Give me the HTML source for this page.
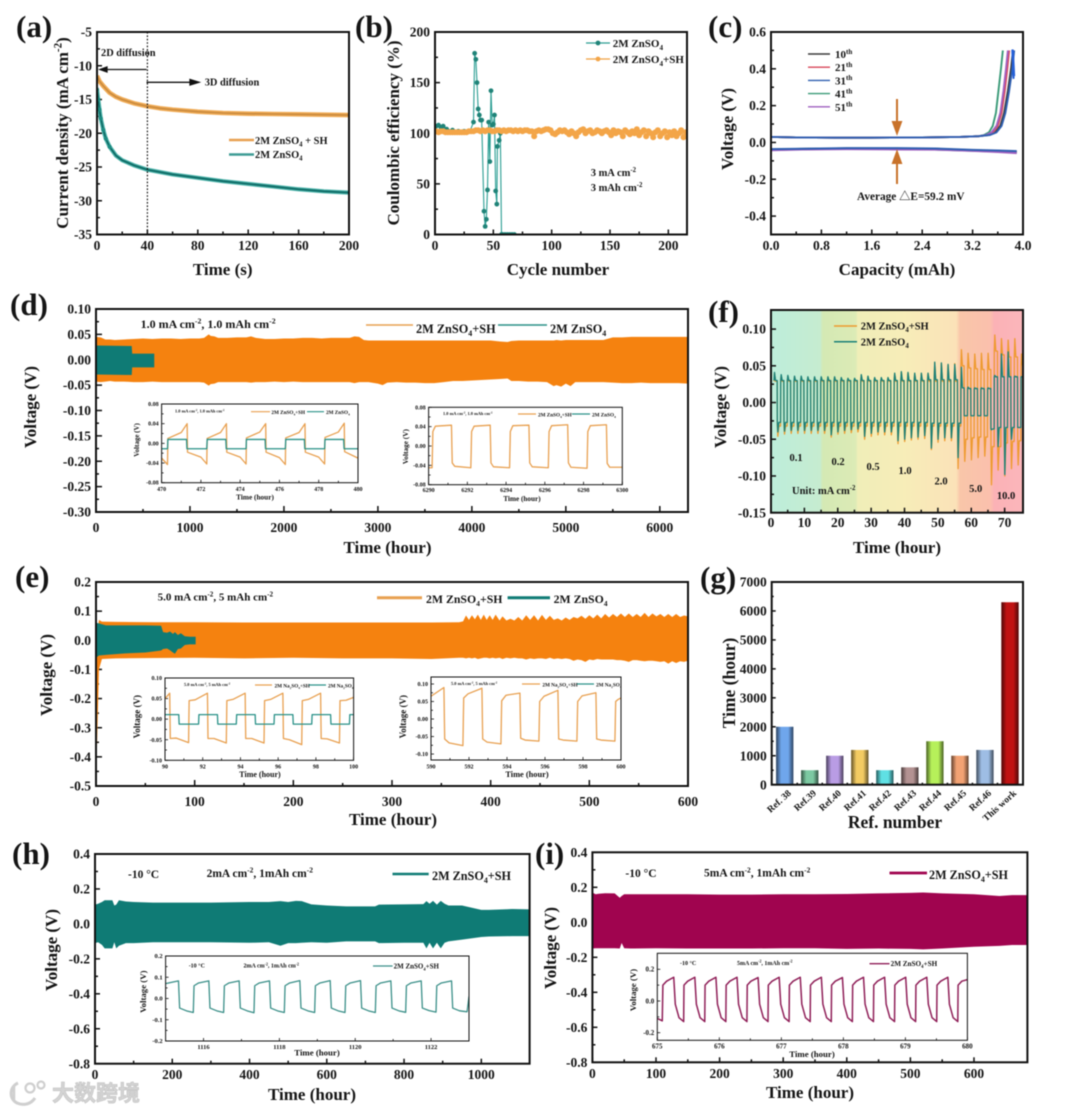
<!DOCTYPE html>
<html lang="en">
<head>
<meta charset="utf-8">
<title>Electrochemical performance figure</title>
<style>
html,body{margin:0;padding:0;background:#fff;width:1080px;height:1111px;overflow:hidden}
#figure{display:block;filter:blur(.4px)}
#figure text{font-family:"Liberation Serif","Noto Serif CJK SC",serif;font-weight:bold;fill:#151515}
</style>
</head>
<body>
<svg id="figure" xmlns="http://www.w3.org/2000/svg" width="1080" height="1111" viewBox="0 0 1080 1111"></svg>
<script>
// ---------- panel (a) ----------
const aXTicks=[0,40,80,120,160,200];
const aYTicks=[-5,-10,-15,-20,-25,-30,-35];
const aTimeSH=[0,2,5,10,15,20,30,40,50,60,80,100,120,140,160,180,200];
const aCurrentSH=[-11.5,-12.3,-13,-14,-14.6,-15,-15.6,-16,-16.3,-16.5,-16.8,-17,-17.1,-17.15,-17.2,-17.25,-17.3];
const aTimeZn=[0,1,2,3,5,7,10,15,20,30,40,60,80,100,120,140,160,180,200];
const aCurrentZn=[-13.5,-15,-16.5,-17.8,-19.5,-20.8,-22,-23.3,-24,-24.8,-25.4,-26.1,-26.6,-27.1,-27.5,-27.9,-28.3,-28.6,-28.8];
// ---------- panel (b) ----------
const bXTicks=[0,50,100,150,200];
const bYTicks=[0,50,100,150,200];
const bCycleZn=[1,3,5,7,10,15,20,25,30,33,34,35,36,37,38,39,40,42,43,44,45,46,47,48,49,50,51,52,53,53.5,55,56,57,58,60,62,64,66,68];
const bEfficiencyZn=[107,108,106,107,104,103,102,102,102,111,179,173,150,124,118,113,113,23,8,15,44,111,72,142,108,109,118,43,30,87,93,100,0,0,0,0,0,0,0];
const bCycleStartSH=1;
const bCycleStepSH=2;
const bEfficiencySH=[102,101,102,102,101,101,101,101,101,101,101,101,101,101,102,102,102,103,103,102,103,102,103,103,102,102,103,103,102,103,102,103,103,102,103,102,103,102,103,103,102,102,97,102,103,102,103,104,104,103,100,99,101,103,102,103,101,99,102,100,97,101,103,104,100,102,103,100,101,103,102,100,102,103,101,98,103,100,102,101,97,103,101,99,102,100,104,98,101,103,97,102,100,96,101,103,97,100,102,96,101,98,102,97,100,103,96,101];
// ---------- panel (c) ----------
const cXTicks=[0,0.8,1.6,2.4,3.2,4.0];
const cYTicks=[0.6,0.4,0.2,0,-0.2,-0.4];
const cCycleNames=["10","21","31","41","51"];
const cChargeVoltage=[.03,.027,.026,.026,.027,.03,.034,.04,.055,.09,.16,.28,.40,.50];
const cChargeCap10=[0,.4,1,1.6,2.4,3,3.3,3.45,3.56,3.64,3.7,3.76,3.81,3.84];
const cChargeCap21=[0,.4,1,1.6,2.4,3,3.3,3.42,3.52,3.6,3.66,3.71,3.75,3.78];
const cChargeCap31=[0,.4,1,1.6,2.4,3,3.3,3.47,3.58,3.66,3.72,3.78,3.83,3.86];
const cChargeCap41=[0,.4,1,1.6,2.4,3,3.3,3.38,3.46,3.52,3.57,3.61,3.65,3.68];
const cChargeCap51=[0,.4,1,1.6,2.4,3,3.3,3.41,3.5,3.58,3.64,3.69,3.73,3.76];
const cDischargeCap=[0,.5,1.2,2,2.6,3.2,3.6,3.9];
const cDischarge10=[-.038,-.035,-.032,-.033,-.034,-.042,-.046,-.05];
const cDischarge21=[-.04,-.037,-.034,-.035,-.036,-.044,-.049,-.053];
const cDischarge31=[-.036,-.034,-.031,-.031,-.033,-.04,-.044,-.047];
const cDischarge41=[-.04,-.036,-.034,-.036,-.038,-.045,-.05,-.055];
const cDischarge51=[-.042,-.038,-.036,-.038,-.039,-.046,-.052,-.058];
const cJitterCap=[3.83,3.85,3.83,3.85,3.84,3.86];
const cJitterVoltage=[.5,.35,.5,.35,.5,.36];
// ---------- panel (d) ----------
const dXTicks=[0,1000,2000,3000,4000,5000,6000];
const dYTicks=[.1,.05,0,-.05,-.1,-.15,-.2,-.25,-.3];
const dTimeSH=[0,50,100,150,200,300,400,500,600,700,800,900,1000,1100,1150,1200,1220,1260,1300,1400,1500,1600,1650,1700,1800,1900,2000,2100,2200,2300,2400,2500,2600,2700,2750,2800,2850,2900,3000,3050,3100,3200,3300,3400,3500,3600,3700,3800,3900,4000,4100,4200,4300,4380,4420,4500,4600,4700,4800,4870,4900,4950,5000,5050,5100,5200,5300,5400,5500,5600,5700,5800,5900,6000,6100,6200,6300];
const dUpperSH=[.045,.044,.04,.04,.039,.04,.041,.042,.041,.042,.042,.041,.042,.042,.043,.05,.047,.046,.043,.043,.044,.044,.046,.043,.041,.041,.042,.042,.043,.043,.042,.043,.043,.043,.046,.045,.039,.038,.038,.038,.038,.038,.038,.038,.038,.038,.038,.038,.038,.038,.038,.038,.036,.035,.037,.038,.038,.038,.038,.038,.039,.038,.039,.039,.039,.039,.039,.039,.044,.044,.045,.045,.045,.045,.045,.045,.045];
const dLowerSH=[-.043,-.044,-.043,-.042,-.043,-.043,-.044,-.044,-.043,-.044,-.044,-.044,-.044,-.044,-.045,-.051,-.048,-.047,-.044,-.044,-.044,-.044,-.045,-.044,-.044,-.043,-.044,-.043,-.044,-.044,-.044,-.044,-.044,-.044,-.046,-.044,-.044,-.044,-.047,-.05,-.045,-.044,-.045,-.045,-.046,-.046,-.044,-.042,-.042,-.041,-.04,-.039,-.038,-.037,-.042,-.042,-.043,-.043,-.044,-.052,-.05,-.053,-.047,-.052,-.044,-.044,-.044,-.044,-.045,-.046,-.046,-.045,-.046,-.046,-.046,-.046,-.047];
const dTimeZn=[0,380,385,620];
const dUpperZn=[.028,.027,.012,.012];
const dLowerZn=[-.029,-.03,-.015,-.015];
const d1XTicks=[470,472,474,476,478,480];
const d1YTicks=[.08,.04,0,-.04,-.08];
const d1Time=[470,470.3,470.32,471,471.3,471.32,472,472.3,472.32,473,473.3,473.32,474,474.3,474.32,475,475.3,475.32,476,476.3,476.32,477,477.3,477.32,478,478.3,478.32,479,479.3,479.32,480];
const d1SH=[-.03,-.043,.01,.022,.04,-.018,-.028,-.042,.01,.022,.04,-.018,-.028,-.042,.011,.023,.04,-.018,-.029,-.043,.011,.022,.04,-.018,-.028,-.042,.012,.023,.041,-.017,-.03];
const d1ZnTime=[470,470.3,470.32,471.27,471.29,472.3,472.32,473.27,473.29,474.3,474.32,475.27,475.29,476.3,476.32,477.27,477.29,478.3,478.32,479.27,479.29,480];
const d1Zn=[-.011,-.011,.008,.008,-.011,-.011,.008,.008,-.011,-.011,.008,.008,-.011,-.011,.008,.008,-.011,-.011,.008,.008,-.011,-.011];
const d2XTicks=[6290,6292,6294,6296,6298,6300];
const d2YTicks=[.08,.04,0,-.04,-.08];
const d2Time=[6290,6290.18,6290.22,6290.35,6291.18,6291.22,6291.35,6292.18,6292.22,6292.35,6293.18,6293.22,6293.35,6294.18,6294.22,6294.35,6295.18,6295.22,6295.35,6296.18,6296.22,6296.35,6297.18,6297.22,6297.35,6298.18,6298.22,6298.35,6299.18,6299.22,6299.35,6300];
const d2SH=[-.045,-.045,.03,.041,.043,-.035,-.042,-.045,.03,.041,.043,-.035,-.043,-.045,.03,.042,.043,-.035,-.043,-.045,.03,.042,.044,-.035,-.044,-.046,.03,.042,.044,-.036,-.044,-.044];
// ---------- panel (e) ----------
const eXTicks=[0,100,200,300,400,500,600];
const eYTicks=[.2,.1,0,-.1,-.2,-.3,-.4,-.5];
const eTimeSH=[0,3,6,20,60,100,150,200,250,300,340,368,372,375,378,381,384,387,390,393,396,399,402,405,409,412,416,420,424,428,432,436,440,444,448,452,456,460,464,468,472,476,480,484,488,492,496,500,504,508,512,516,520,524,528,532,536,540,544,548,552,556,560,564,568,572,576,580,584,588,592,596,600];
const eUpperSH=[0,.07,.064,.063,.062,.062,.061,.061,.061,.061,.061,.062,.065,.085,.07,.086,.072,.088,.07,.088,.07,.086,.07,.088,.068,.082,.068,.074,.068,.08,.068,.086,.07,.086,.068,.087,.07,.084,.07,.075,.068,.078,.07,.08,.075,.084,.074,.086,.075,.088,.075,.09,.078,.09,.08,.092,.08,.092,.08,.09,.08,.094,.08,.092,.082,.09,.08,.09,.08,.09,.08,.085,.082];
const eLowerSH=[-.5,-.1,-.064,-.062,-.061,-.06,-.062,-.06,-.062,-.062,-.064,-.06,-.06,-.062,-.06,-.062,-.06,-.064,-.062,-.06,-.06,-.062,-.06,-.062,-.06,-.064,-.06,-.062,-.06,-.062,-.062,-.066,-.062,-.064,-.062,-.062,-.064,-.06,-.064,-.062,-.064,-.062,-.064,-.07,-.066,-.068,-.074,-.066,-.068,-.064,-.066,-.066,-.066,-.066,-.068,-.068,-.07,-.074,-.068,-.068,-.07,-.072,-.07,-.07,-.072,-.074,-.072,-.08,-.072,-.078,-.072,-.074,-.07];
const eTimeZn=[0,3,10,30,50,66,68,72,75,78,80,83,86,90,95,101];
const eUpperZn=[.06,.058,.051,.051,.051,.05,.028,.026,.03,.022,.028,.018,.024,.014,.012,.012];
const eLowerZn=[-.06,-.052,-.05,-.045,-.042,-.035,-.03,-.028,-.034,-.042,-.046,-.03,-.028,-.016,-.014,-.014];
const e1XTicks=[90,92,94,96,98,100];
const e1YTicks=[.1,.05,0,-.05,-.1];
const e1Time=[90,90.25,90.28,90.6,91.25,91.28,91.6,92.25,92.28,92.6,93.25,93.28,93.6,94.25,94.28,94.6,95.25,95.28,95.6,96.25,96.28,96.6,97.25,97.28,97.6,98.25,98.28,98.6,99.25,99.28,99.6,100];
const e1SH=[.05,.063,-.047,-.046,-.057,.045,.047,.063,-.047,-.047,-.058,.045,.048,.063,-.047,-.047,-.058,.045,.048,.063,-.047,-.05,-.062,.045,.048,.063,-.047,-.048,-.058,.045,.046,.053];
const e1ZnTime=[90,90.73,90.75,91.78,91.8,92.78,92.8,93.78,93.8,94.78,94.8,95.78,95.8,96.78,96.8,97.78,97.8,98.78,98.8,99.78,99.8,100];
const e1Zn=[.011,.011,-.012,-.012,.011,.011,-.012,-.012,.011,.011,-.012,-.012,.011,.011,-.012,-.012,.011,.011,-.012,-.012,.011,.011];
const e2XTicks=[590,592,594,596,598,600];
const e2YTicks=[.1,.05,0,-.05,-.1];
const e2Time=[590,590.68,590.72,590.95,591.68,591.72,591.95,592.68,592.72,592.95,593.68,593.72,593.95,594.68,594.72,594.95,595.68,595.72,595.95,596.68,596.72,596.95,597.68,597.72,597.95,598.68,598.72,598.95,599.68,599.72,599.85,600];
const e2SH=[.065,.09,-.057,-.068,-.076,.06,.072,.088,-.057,-.066,-.071,.052,.068,.074,-.055,-.06,-.063,.05,.065,.082,-.057,-.06,-.063,.05,.066,.075,-.057,-.06,-.063,.05,.056,.06];
// ---------- panel (f) ----------
const fXTicks=[0,10,20,30,40,50,60,70];
const fYTicks=[.1,.05,0,-.05,-.1,-.15];
const fRateLabels=["0.1","0.2","0.5","1.0","2.0","5.0","10.0"];
const fCycleHours=[.9,2.9,4.9,6.9,8.9,10.9,12.9,14.9,16.9,18.9,20.9,22.9,24.9,26.9,28.9,30.9,32.9,34.9,36.9,38.9,40.9,42.9,44.9,46.9,48.9,50.9,52.9,54.9,56.9,58.9,60.9,62.9,64.9,66.9,68.9,70.9,72.9,74.9];
const fZnHighPeak=[.041,.038,.037,.036,.036,.035,.035,.035,.035,.035,.034,.033,.033,.038,.036,.034,.034,.034,.04,.042,.041,.04,.04,.04,.055,.054,.052,.052,.048,.021,.02,.02,.02,.037,.066,.069,.036,.035];
const fZnHighEnd=[.03,.03,.03,.03,.03,.03,.03,.03,.03,.03,.03,.03,.03,.03,.03,.03,.03,.03,.03,.03,.03,.03,.03,.031,.031,.031,.031,.031,.02,.019,.019,.019,.019,.035,.035,.035,.035,.035];
const fZnLowPeak=[-.04,-.039,-.038,-.038,-.038,-.038,-.038,-.038,-.044,-.04,-.038,-.037,-.036,-.046,-.042,-.04,-.04,-.04,-.052,-.05,-.048,-.047,-.045,-.062,-.05,-.048,-.048,-.075,-.018,-.018,-.018,-.018,-.037,-.06,-.098,-.05,-.034,-.034];
const fZnLowEnd=[-.027,-.027,-.027,-.027,-.027,-.027,-.027,-.027,-.027,-.027,-.027,-.027,-.027,-.027,-.027,-.027,-.027,-.027,-.027,-.027,-.027,-.027,-.027,-.028,-.028,-.028,-.028,-.028,-.018,-.018,-.018,-.018,-.036,-.034,-.034,-.034,-.034,-.034];
const fSHHighPeak=[.04,.037,.036,.035,.035,.034,.034,.034,.034,.034,.033,.032,.032,.037,.035,.033,.033,.033,.039,.041,.04,.039,.039,.039,.054,.053,.051,.053,.072,.067,.066,.067,.067,.092,.087,.085,.087,.066];
const fSHHighEnd=[.029,.029,.029,.029,.029,.029,.029,.029,.029,.029,.029,.029,.029,.029,.029,.029,.029,.029,.029,.029,.029,.029,.029,.029,.029,.029,.029,.029,.05,.047,.046,.045,.045,.07,.065,.062,.062,.05];
const fSHLowPeak=[-.046,-.043,-.042,-.042,-.042,-.042,-.042,-.042,-.047,-.043,-.042,-.041,-.04,-.05,-.046,-.044,-.044,-.044,-.056,-.053,-.051,-.05,-.049,-.064,-.054,-.052,-.052,-.09,-.08,-.078,-.075,-.073,-.112,-.092,-.1,-.09,-.085,-.085];
const fSHLowEnd=[-.032,-.032,-.032,-.032,-.032,-.032,-.032,-.032,-.032,-.032,-.032,-.032,-.032,-.032,-.032,-.032,-.032,-.032,-.032,-.032,-.032,-.032,-.032,-.032,-.032,-.032,-.032,-.032,-.05,-.048,-.047,-.047,-.06,-.06,-.055,-.053,-.052,-.05];
// ---------- panel (g) ----------
const gCategories=["Ref. 38","Ref.39","Ref.40","Ref.41","Ref.42","Ref.43","Ref.44","Ref.45","Ref.46","This work"];
const gHours=[2000,500,1000,1200,500,600,1500,1000,1200,6300];
const gYTicks=[0,1000,2000,3000,4000,5000,6000,7000];
const gBarColors=["#6fa6ec","#7cc9a2","#b99cE4","#f3cb62","#5fe0e4","#b39292","#b6f05a","#f2a273","#9ebde4","#c01212"];
// ---------- panel (h) ----------
const hXTicks=[0,200,400,600,800,1000];
const hYTicks=[.4,.2,0,-.2,-.4,-.6,-.8];
const hTime=[0,8,18,25,45,50,55,62,80,100,150,200,300,400,450,480,500,520,535,560,600,650,700,725,735,800,850,858,866,875,885,895,905,915,950,1000,1020,1080,1125];
const hUpper=[.11,.115,.125,.135,.135,.105,.11,.135,.128,.125,.122,.122,.122,.125,.125,.13,.125,.132,.13,.112,.105,.1,.1,.1,.11,.112,.113,.13,.115,.132,.11,.132,.115,.105,.105,.08,.08,.085,.083];
const hLower=[-.11,-.105,-.12,-.14,-.14,-.105,-.14,-.125,-.11,-.11,-.105,-.105,-.105,-.108,-.105,-.125,-.11,-.11,-.108,-.105,-.108,-.1,-.1,-.1,-.11,-.108,-.108,-.14,-.108,-.14,-.108,-.14,-.108,-.1,-.09,-.075,-.072,-.07,-.07];
const h1XTicks=[1116,1118,1120,1122];
const h1YTicks=[.2,.1,0,-.1,-.2];
const h1Time=[1115,1115.15,1115.34,1115.37,1115.55,1115.73,1115.75,1115.87,1116.14,1116.17,1116.35,1116.53,1116.55,1116.67,1116.94,1116.97,1117.15,1117.33,1117.35,1117.47,1117.74,1117.77,1117.95,1118.13,1118.15,1118.27,1118.54,1118.57,1118.75,1118.93,1118.95,1119.07,1119.34,1119.37,1119.55,1119.73,1119.75,1119.87,1120.14,1120.17,1120.35,1120.53,1120.55,1120.67,1120.94,1120.97,1121.15,1121.33,1121.35,1121.47,1121.74,1121.77,1121.95,1122.13,1122.15,1122.27,1122.54,1122.57,1122.75,1122.93,1122.95,1123];
const h1Voltage=[.07,.076,.083,-.045,-.058,-.066,.06,.073,.083,-.045,-.058,-.066,.06,.073,.083,-.045,-.058,-.067,.06,.073,.083,-.045,-.058,-.066,.06,.073,.084,-.045,-.058,-.066,.06,.073,.084,-.045,-.058,-.066,.06,.073,.084,-.045,-.058,-.066,.06,.073,.083,-.045,-.058,-.065,.06,.073,.083,-.045,-.057,-.064,.06,.073,.083,-.045,-.058,-.062,-.062,.01];
// ---------- panel (i) ----------
const iXTicks=[0,100,200,300,400,500,600];
const iYTicks=[.4,.2,0,-.2,-.4,-.6,-.8];
const iTime=[0,5,10,20,35,43,46,50,60,100,150,200,250,300,350,400,450,500,520,550,600,640,660,685];
const iUpper=[.17,.16,.163,.166,.165,.14,.15,.16,.16,.16,.16,.158,.158,.16,.16,.162,.165,.168,.17,.165,.16,.15,.155,.155];
const iLower=[-.15,-.148,-.148,-.148,-.148,-.15,-.118,-.148,-.15,-.148,-.15,-.15,-.15,-.148,-.148,-.152,-.15,-.152,-.155,-.15,-.14,-.135,-.13,-.13];
const i1XTicks=[675,676,677,678,679,680];
const i1YTicks=[.2,0,-.2];
const i1Time=[675,675.08,675.09,675.15,675.265,675.29,675.35,675.425,675.43,675.49,675.605,675.63,675.69,675.765,675.77,675.83,675.945,675.97,676.03,676.105,676.11,676.17,676.285,676.31,676.37,676.445,676.45,676.51,676.625,676.65,676.71,676.785,676.79,676.85,676.965,676.99,677.05,677.125,677.13,677.19,677.305,677.33,677.39,677.465,677.47,677.53,677.645,677.67,677.73,677.805,677.81,677.87,677.985,678.01,678.07,678.145,678.15,678.21,678.325,678.35,678.41,678.485,678.49,678.55,678.665,678.69,678.75,678.825,678.83,678.89,679.005,679.03,679.09,679.165,679.17,679.23,679.345,679.37,679.43,679.505,679.51,679.57,679.685,679.71,679.77,679.845,679.85,679.91,680];
const i1Voltage=[-.11,-.125,.1,.125,.15,-.02,-.105,-.13,.1,.125,.15,-.02,-.105,-.13,.1,.125,.15,-.02,-.105,-.13,.1,.125,.15,-.02,-.105,-.13,.1,.125,.148,-.02,-.105,-.13,.1,.125,.15,-.02,-.105,-.13,.1,.125,.15,-.02,-.105,-.13,.1,.125,.15,-.02,-.105,-.13,.1,.125,.148,-.02,-.105,-.13,.1,.125,.15,-.02,-.105,-.13,.1,.125,.15,-.02,-.105,-.13,.1,.125,.15,-.02,-.105,-.13,.1,.125,.15,-.02,-.105,-.13,.1,.125,.15,-.02,-.105,-.13,.1,.125,.135];

// ---------- helpers ----------
const NS='http://www.w3.org/2000/svg';
const root=document.getElementById('figure');
function add(parent,tag,attrs,name){
  const el=document.createElementNS(NS,tag);
  for(const k in attrs) el.setAttribute(k,attrs[k]);
  
  
  parent.appendChild(el);
  return el;
}
function label(parent,x,y,str,size,name,extra){
  const attrs=Object.assign({x:x,y:y,'font-size':size},extra||{});
  const t=add(parent,'text',attrs,name);
  const parts=str.split(/(\^[-0-9a-z]+|_[0-9]+)/);
  let pending=0;
  parts.forEach(function(p){
    if(!p) return;
    const span=add(t,'tspan',{},name+'-run');
    if(p[0]==='^'||p[0]==='_'){
      const shift=(p[0]==='^'?-.38:.25)*size;
      span.setAttribute('dy',pending+shift);
      span.setAttribute('font-size',size*.65);
      span.textContent=p.slice(1);
      pending=-shift;
    }else{
      if(pending) span.setAttribute('dy',pending);
      span.textContent=p;
      pending=0;
    }
  });
  return t;
}
let clipCount=0;
function axes(parent,o){
  const g=add(parent,'g',{},o.name+'-axes');
  const X=function(v){return o.x0+(v-o.xMin)/(o.xMax-o.xMin)*(o.x1-o.x0);};
  const Y=function(v){return o.y0+(o.yMax-v)/(o.yMax-o.yMin)*(o.y1-o.y0);};
  const major=o.major===undefined?5:o.major, minor=o.minor===undefined?3:o.minor;
  const sw=o.tickWidth||1.5;
  function tick(px,py,dx,dy,name){add(g,'line',{x1:px,y1:py,x2:px+dx,y2:py+dy,stroke:'#111','stroke-width':sw},name);}
  const fs=o.fontSize||13.5;
  o.xTicks.forEach(function(v,i){
    tick(X(v),o.y1,0,-major,o.name+'-x-tick');
    if(i<o.xTicks.length-1) tick(X((v+o.xTicks[i+1])/2),o.y1,0,-minor,o.name+'-x-minor-tick');
    if(o.xLabelY!==undefined) label(g,X(v),o.xLabelY,v.toFixed(o.xDigits||0),fs,o.name+'-x-tick-label',{'text-anchor':'middle'});
  });
  o.yTicks.forEach(function(v,i){
    tick(o.x0,Y(v),major,0,o.name+'-y-tick');
    if(i<o.yTicks.length-1) tick(o.x0,Y((v+o.yTicks[i+1])/2),minor,0,o.name+'-y-minor-tick');
    label(g,o.x0-(o.labelGap||5),Y(v)+fs*.34,v.toFixed(o.yDigits||0),fs,o.name+'-y-tick-label',{'text-anchor':'end'});
  });
  const id='clip'+(clipCount++);
  const cp=add(g,'clipPath',{id:id},o.name+'-clip');
  add(cp,'rect',{x:o.x0,y:o.y0,width:o.x1-o.x0,height:o.y1-o.y0},o.name+'-clip-rect');
  const plot=add(parent,'g',{'clip-path':'url(#'+id+')'},o.name+'-plot-area');
  const frame=function(){add(parent,'rect',{x:o.x0,y:o.y0,width:o.x1-o.x0,height:o.y1-o.y0,fill:'none',stroke:'#111','stroke-width':o.frameWidth||2},o.name+'-frame');};
  return {X:X,Y:Y,plot:plot,frame:frame};
}
function line(ax,xs,ys,stroke,width,name,extra){
  const d=xs.map(function(x,i){return (i?'L':'M')+ax.X(x).toFixed(2)+' '+ax.Y(ys[i]).toFixed(2);}).join('');
  return add(ax.plot,'path',Object.assign({d:d,fill:'none',stroke:stroke,'stroke-width':width,'stroke-linejoin':'round'},extra||{}),name);
}
function band(ax,xs,up,low,fill,name){
  let d='';
  xs.forEach(function(x,i){d+=(i?'L':'M')+ax.X(x).toFixed(2)+' '+ax.Y(up[i]).toFixed(2);});
  for(let i=xs.length-1;i>=0;i--){d+='L'+ax.X(xs[i]).toFixed(2)+' '+ax.Y(low[i]).toFixed(2);}
  return add(ax.plot,'path',{d:d+'Z',fill:fill},name);
}
function key(parent,x1,x2,y,color,width,name){
  add(parent,'line',{x1:x1,y1:y,x2:x2,y2:y,stroke:color,'stroke-width':width},name);
}
function vtitle(parent,x,y,str,size,name){
  return label(parent,0,0,str,size,name,{'text-anchor':'middle',transform:'translate('+x+' '+y+') rotate(-90)'});
}
function ctitle(parent,x,y,str,size,name){
  return label(parent,x,y,str,size,name,{'text-anchor':'middle'});
}
const ORANGE='#f5820f', TEAL='#0f7b75', LORANGE='#e8a050', LTEAL='#3e9c94';
const TITLE=17, LETTER=31;

// ---------- panel a ----------
(function(){
  const p=add(root,'g',{},'panel-a');
  const ax=axes(p,{name:'a',x0:97,x1:349,y0:32,y1:234.5,xMin:0,xMax:200,yMin:-35,yMax:-5,xTicks:aXTicks,yTicks:aYTicks,xLabelY:250});
  line(ax,aTimeSH,aCurrentSH,'#f0ab55',4.6,'znso4-sh-curve-halo');
  line(ax,aTimeSH,aCurrentSH,'#c98a3e',1.6,'znso4-sh-curve');
  line(ax,aTimeZn,aCurrentZn,'#4db3aa',4.2,'znso4-curve-halo');
  line(ax,aTimeZn,aCurrentZn,'#0e6b66',1.8,'znso4-curve');
  aTimeZn.slice(0,7).forEach(function(t,i){add(ax.plot,'circle',{cx:ax.X(t),cy:ax.Y(aCurrentZn[i]),r:2,fill:'#1d8c82'},'znso4-point');});
  add(ax.plot,'line',{x1:ax.X(40),x2:ax.X(40),y1:32,y2:234.5,stroke:'#111','stroke-width':1.2,'stroke-dasharray':'1.6 1.8'},'diffusion-boundary');
  add(p,'path',{d:'M146.5 69.5H103M107 67L100 69.5L107 72Z',stroke:'#111','stroke-width':1.3,fill:'#111'},'arrow-2d');
  add(p,'path',{d:'M146.5 82.3H192M190 79.5L199 82.3L190 85Z',stroke:'#111','stroke-width':1.3,fill:'#111'},'arrow-3d');
  label(p,101,56,'2D diffusion',10.4,'label-2d-diffusion');
  label(p,204.7,85.7,'3D diffusion',10.4,'label-3d-diffusion');
  key(p,229,254,140,LORANGE,2.6,'legend-line-znso4-sh');
  label(p,255,144,'2M ZnSO_4 + SH',10.4,'legend-label-znso4-sh');
  key(p,229,254,154.5,LTEAL,2.6,'legend-line-znso4');
  label(p,255,158,'2M ZnSO_4',10.4,'legend-label-znso4');
  ax.frame();
  vtitle(p,68,133,'Current density (mA cm^-2)',TITLE,'y-axis-title-a');
  ctitle(p,222.7,275,'Time (s)',TITLE,'x-axis-title-a');
  label(p,16,37,'(a)',LETTER,'panel-label-a');
})();

// ---------- panel b ----------
(function(){
  const p=add(root,'g',{},'panel-b');
  const ax=axes(p,{name:'b',x0:435,x1:687,y0:32,y1:234.5,xMin:0,xMax:216,yMin:0,yMax:200,xTicks:bXTicks,yTicks:bYTicks,xLabelY:250});
  line(ax,bCycleZn,bEfficiencyZn,'#2a9d92',1.1,'znso4-line');
  bCycleZn.forEach(function(c,i){add(ax.plot,'circle',{cx:ax.X(c),cy:ax.Y(bEfficiencyZn[i]),r:2.4,fill:'#1f8378'},'znso4-point');});
  const shCycles=bEfficiencySH.map(function(v,i){return bCycleStartSH+i*bCycleStepSH;});
  line(ax,shCycles,bEfficiencySH,'#f0a040',1.4,'znso4-sh-line');
  shCycles.forEach(function(c,i){add(ax.plot,'circle',{cx:ax.X(c),cy:ax.Y(bEfficiencySH[i]),r:3,fill:'#f3a548'},'znso4-sh-point');});
  key(p,586,610,43,'#2a9d92',1.2,'legend-line-znso4');
  add(p,'circle',{cx:598,cy:43,r:2.4,fill:'#1f8378'},'legend-marker-znso4');
  label(p,612.7,47,'2M ZnSO_4',11,'legend-label-znso4');
  key(p,586,610,59,'#f0a040',1.2,'legend-line-znso4-sh');
  add(p,'circle',{cx:598,cy:59,r:2.4,fill:'#f3a548'},'legend-marker-znso4-sh');
  label(p,612.7,63,'2M ZnSO_4+SH',11,'legend-label-znso4-sh');
  label(p,590.7,176,'3 mA cm^-2',10.5,'condition-current');
  label(p,590.7,191,'3 mAh cm^-2',10.5,'condition-capacity');
  ax.frame();
  vtitle(p,399,133,'Coulombic efficiency (%)',TITLE,'y-axis-title-b');
  ctitle(p,558,275,'Cycle number',TITLE,'x-axis-title-b');
  label(p,355,37,'(b)',LETTER,'panel-label-b');
})();

// ---------- panel c ----------
(function(){
  const p=add(root,'g',{},'panel-c');
  const ax=axes(p,{name:'c',x0:771,x1:1023,y0:32,y1:234.5,xMin:0,xMax:4,yMin:-.5,yMax:.6,xTicks:cXTicks,yTicks:cYTicks,xLabelY:250,xDigits:1,yDigits:1});
  const colors=['#3a3a3a','#d9485a','#2f5fb0','#3a9a78','#a060c0'];
  const chargeCaps=[cChargeCap10,cChargeCap21,cChargeCap31,cChargeCap41,cChargeCap51];
  const discharges=[cDischarge10,cDischarge21,cDischarge31,cDischarge41,cDischarge51];
  [0,1,3,4,2].forEach(function(i){
    line(ax,chargeCaps[i],cChargeVoltage,colors[i],1.9,'charge-curve-'+cCycleNames[i]);
    line(ax,cDischargeCap,discharges[i],colors[i],2,'discharge-curve-'+cCycleNames[i]);
  });
  line(ax,cJitterCap,cJitterVoltage,'#2560d8',2,'charge-curve-31-end');
  cCycleNames.forEach(function(n,i){
    const y=54+13.2*i;
    key(p,808,830,y,colors[i],1.4,'legend-line-'+n);
    label(p,835,y+4,n+'^th',11,'legend-label-'+n);
  });
  add(p,'path',{d:'M897 99V128M893 122L897 133L901 122Z',stroke:'#c8722a','stroke-width':2,fill:'#c8722a'},'arrow-down');
  add(p,'path',{d:'M897 184V157M893 163L897 152L901 163Z',stroke:'#c8722a','stroke-width':2,fill:'#c8722a'},'arrow-up');
  label(p,857,200,'Average △E=59.2 mV',11.3,'delta-e-annotation');
  ax.frame();
  vtitle(p,733,129,'Voltage (V)',TITLE,'y-axis-title-c');
  ctitle(p,897,275,'Capacity (mAh)',TITLE,'x-axis-title-c');
  label(p,708,37,'(c)',LETTER,'panel-label-c');
})();

function insetFrame(p,o,sets){
  const ax=axes(p,o);
  sets.forEach(function(s){line(ax,s[0],s[1],s[2],s[3]||1,s[4]);});
  ax.frame();
  return ax;
}

// ---------- panel d ----------
(function(){
  const p=add(root,'g',{},'panel-d');
  const ax=axes(p,{name:'d',x0:96,x1:688,y0:309,y1:512,xMin:0,xMax:6300,yMin:-.3,yMax:.1,xTicks:dXTicks,yTicks:dYTicks,xLabelY:532,yDigits:2,major:6});
  band(ax,dTimeSH,dUpperSH,dLowerSH,ORANGE,'znso4-sh-voltage-band');
  band(ax,dTimeZn,dUpperZn,dLowerZn,TEAL,'znso4-voltage-band');
  label(p,140.6,328,'1.0 mA cm^-2, 1.0 mAh cm^-2',12,'test-condition-d');
  key(p,366,413,325,LORANGE,1.6,'legend-line-znso4-sh');
  label(p,416,333,'2M ZnSO_4+SH',12.3,'legend-label-znso4-sh');
  key(p,498,547,325,'#2a9188',1.6,'legend-line-znso4');
  label(p,550,333,'2M ZnSO_4',12.3,'legend-label-znso4');
  ax.frame();
  const i1=add(p,'g',{},'inset-d-early');
  insetFrame(i1,{name:'d1',x0:161.6,x1:358,y0:404,y1:482.7,xMin:470,xMax:480,yMin:-.08,yMax:.08,xTicks:d1XTicks,yTicks:d1YTicks,xLabelY:491,fontSize:6,yDigits:2,major:3,minor:2,tickWidth:.8,frameWidth:1,labelGap:3},
    [[d1Time,d1SH,LORANGE,1.3,'inset-d1-sh-line'],[d1ZnTime,d1Zn,'#2a9188',1.3,'inset-d1-zn-line']]);
  vtitle(i1,139,440,'Voltage (V)',7,'inset-d1-y-title');
  ctitle(i1,255,499.5,'Time (hour)',7.3,'inset-d1-x-title');
  label(i1,175,412.7,'1.0 mA cm^-2, 1.0 mAh cm^-2',4.4,'inset-d1-condition');
  key(i1,251,270,411.7,LORANGE,1.2,'inset-d1-legend-sh');
  label(i1,271.4,414,'2M ZnSO_4+SH',5.2,'inset-d1-legend-sh-label');
  key(i1,307,324,411.7,'#2a9188',1.2,'inset-d1-legend-zn');
  label(i1,326,414,'2M ZnSO_4',5.2,'inset-d1-legend-zn-label');
  const i2=add(p,'g',{},'inset-d-late');
  insetFrame(i2,{name:'d2',x0:428.6,x1:622.3,y0:407.3,y1:484.7,xMin:6290,xMax:6300,yMin:-.08,yMax:.08,xTicks:d2XTicks,yTicks:d2YTicks,xLabelY:492,fontSize:6,yDigits:2,major:3,minor:2,tickWidth:.8,frameWidth:1,labelGap:3},
    [[d2Time,d2SH,LORANGE,1.3,'inset-d2-sh-line']]);
  vtitle(i2,408,446.7,'Voltage (V)',7.3,'inset-d2-y-title');
  ctitle(i2,522,501,'Time (hour)',7.2,'inset-d2-x-title');
  label(i2,443,415,'1.0 mA cm^-2, 1.0 mAh cm^-2',4.4,'inset-d2-condition');
  key(i2,518,536,414,LORANGE,1.2,'inset-d2-legend-sh');
  label(i2,538,416.5,'2M ZnSO_4+SH',5.2,'inset-d2-legend-sh-label');
  key(i2,572,590,414,'#2a9188',1.2,'inset-d2-legend-zn');
  label(i2,592,416.5,'2M ZnSO_4',5.2,'inset-d2-legend-zn-label');
  vtitle(p,36,407,'Voltage (V)',TITLE,'y-axis-title-d');
  ctitle(p,387.5,553,'Time (hour)',TITLE,'x-axis-title-d');
  label(p,10,315,'(d)',LETTER,'panel-label-d');
})();

// ---------- panel e ----------
(function(){
  const p=add(root,'g',{},'panel-e');
  const ax=axes(p,{name:'e',x0:96,x1:688,y0:582,y1:786,xMin:0,xMax:600,yMin:-.5,yMax:.2,xTicks:eXTicks,yTicks:eYTicks,xLabelY:806,yDigits:1,major:6});
  band(ax,eTimeSH,eUpperSH,eLowerSH,ORANGE,'znso4-sh-voltage-band');
  band(ax,eTimeZn,eUpperZn,eLowerZn,TEAL,'znso4-voltage-band');
  label(p,157.6,600.7,'5.0 mA cm^-2, 5 mAh cm^-2',11,'test-condition-e');
  key(p,377,422,597.7,LORANGE,3,'legend-line-znso4-sh');
  label(p,426,603,'2M ZnSO_4+SH',11.8,'legend-label-znso4-sh');
  key(p,507.6,550,597.7,TEAL,3,'legend-line-znso4');
  label(p,553.6,603,'2M ZnSO_4',11.8,'legend-label-znso4');
  ax.frame();
  const i1=add(p,'g',{},'inset-e-early');
  insetFrame(i1,{name:'e1',x0:165,x1:353.6,y0:678,y1:760.3,xMin:90,xMax:100,yMin:-.1,yMax:.1,xTicks:e1XTicks,yTicks:e1YTicks,xLabelY:768.5,fontSize:6,yDigits:2,major:3,minor:2,tickWidth:.8,frameWidth:1,labelGap:3},
    [[e1Time,e1SH,LORANGE,1.3,'inset-e1-sh-line'],[e1ZnTime,e1Zn,'#2a9188',1.3,'inset-e1-zn-line']]);
  vtitle(i1,140,716.7,'Voltage (V)',9,'inset-e1-y-title');
  ctitle(i1,260,777,'Time (hour)',8,'inset-e1-x-title');
  label(i1,184,686,'5.0 mA cm^-2, 5 mAh cm^-2',4.4,'inset-e1-condition');
  key(i1,255,272,685,LORANGE,1.2,'inset-e1-legend-sh');
  label(i1,274.5,687.5,'2M Na_2SO_4+SH',5.2,'inset-e1-legend-sh-label');
  key(i1,309,326,685,'#2a9188',1.2,'inset-e1-legend-zn');
  label(i1,328,687.5,'2M Na_2SO_4',5.2,'inset-e1-legend-zn-label');
  const i2=add(p,'g',{},'inset-e-late');
  insetFrame(i2,{name:'e2',x0:431,x1:621,y0:677,y1:760,xMin:590,xMax:600,yMin:-.117,yMax:.12,xTicks:e2XTicks,yTicks:e2YTicks,xLabelY:768.5,fontSize:6,yDigits:2,major:3,minor:2,tickWidth:.8,frameWidth:1,labelGap:3},
    [[e2Time,e2SH,LORANGE,1.3,'inset-e2-sh-line']]);
  vtitle(i2,406,716.7,'Voltage (V)',9,'inset-e2-y-title');
  ctitle(i2,527,777,'Time (hour)',8.4,'inset-e2-x-title');
  label(i2,451,685,'5.0 mA cm^-2, 5 mAh cm^-2',4.4,'inset-e2-condition');
  key(i2,522,540,684,LORANGE,1.2,'inset-e2-legend-sh');
  label(i2,542.4,686.5,'2M Na_2SO_4+SH',5.2,'inset-e2-legend-sh-label');
  key(i2,577,594,684,'#2a9188',1.2,'inset-e2-legend-zn');
  label(i2,596,686.5,'2M Na_2SO_4',5.2,'inset-e2-legend-zn-label');
  vtitle(p,52,675,'Voltage (V)',TITLE,'y-axis-title-e');
  ctitle(p,393,825,'Time (hour)',TITLE,'x-axis-title-e');
  label(p,15,587,'(e)',LETTER,'panel-label-e');
})();

// ---------- panel f ----------
(function(){
  const p=add(root,'g',{},'panel-f');
  const defs=add(p,'defs',{},'f-defs');
  const grad=add(defs,'linearGradient',{id:'rateBg',x1:0,x2:1,y1:0,y2:0},'rate-background-gradient');
  [[0,'#bdeedb'],[.195,'#c6ecd0'],[.205,'#d4e9b4'],[.335,'#dcebb6'],[.345,'#f0eeb8'],[.53,'#f7edb8'],[.735,'#fbe2b8'],[.75,'#f9c6a9'],[.87,'#fbc0ad'],[.885,'#fbb2b6'],[1,'#fbb6bb']].forEach(function(s){
    add(grad,'stop',{offset:s[0],'stop-color':s[1]},'rate-background-stop');
  });
  add(p,'rect',{x:771,y:310,width:252,height:202.7,fill:'url(#rateBg)'},'rate-background');
  const ax=axes(p,{name:'f',x0:771,x1:1023,y0:310,y1:512.7,xMin:0,xMax:75.5,yMin:-.15,yMax:.126,xTicks:fXTicks,yTicks:fYTicks,xLabelY:527,yDigits:2});
  function wave(highPeak,highEnd,lowPeak,lowEnd){
    const xs=[],ys=[];
    fCycleHours.forEach(function(t,k){
      xs.push(t,t+.15,t+.45,t+.95,t+1,t+1.15,t+1.45,t+1.95);
      ys.push(highEnd[k],highPeak[k],highEnd[k],highEnd[k],lowEnd[k],lowPeak[k],lowEnd[k],lowEnd[k]);
    });
    return [xs,ys];
  }
  const sh=wave(fSHHighPeak,fSHHighEnd,fSHLowPeak,fSHLowEnd);
  const zn=wave(fZnHighPeak,fZnHighEnd,fZnLowPeak,fZnLowEnd);
  line(ax,sh[0],sh[1],'#ee9a2e',1.3,'znso4-sh-voltage-line');
  line(ax,zn[0],zn[1],'#1a8078',1.3,'znso4-voltage-line');
  key(p,834,857,326,'#ee9a2e',1.5,'legend-line-znso4-sh');
  label(p,860.7,329.5,'2M ZnSO_4+SH',10.5,'legend-label-znso4-sh');
  key(p,834,857,341.7,'#1a8078',1.5,'legend-line-znso4');
  label(p,860.7,345.5,'2M ZnSO_4',10.5,'legend-label-znso4');
  const rx=[796,838,873,905,941,975.7,1006], ry=[461,465,470,474,484.5,492,499];
  fRateLabels.forEach(function(t,i){ctitleRate(t,rx[i],ry[i]);});
  function ctitleRate(t,x,y){label(p,x,y,t,10.5,'rate-label-'+t,{'text-anchor':'middle'});}
  label(p,792,494,'Unit: mA cm^-2',10.5,'rate-unit-label');
  ax.frame();
  vtitle(p,726,407,'Voltage (V)',TITLE,'y-axis-title-f');
  ctitle(p,897,553,'Time (hour)',TITLE,'x-axis-title-f');
  label(p,708,322,'(f)',LETTER,'panel-label-f');
})();

// ---------- panel g ----------
(function(){
  const p=add(root,'g',{},'panel-g');
  const defs=add(p,'defs',{},'g-defs');
  const grad=add(defs,'linearGradient',{id:'barShade',x1:0,x2:1,y1:0,y2:0},'bar-shade-gradient');
  [[0,.6],[.3,0],[.7,0],[1,.6]].forEach(function(s){
    add(grad,'stop',{offset:s[0],'stop-color':'#000','stop-opacity':s[1]},'bar-shade-stop');
  });
  const ax=axes(p,{name:'g',x0:771.7,x1:1023,y0:582,y1:784.7,xMin:-.52,xMax:9.52,yMin:0,yMax:7000,xTicks:gCategories.map(function(c,i){return i;}),yTicks:gYTicks,major:4,minor:2});
  const w=(ax.X(1)-ax.X(0))*.69;
  gHours.forEach(function(v,i){
    const y=ax.Y(v);
    add(ax.plot,'rect',{x:ax.X(i)-w/2,y:y,width:w,height:ax.Y(0)-y,fill:gBarColors[i]},'bar-'+gCategories[i].toLowerCase().replace(/[^a-z0-9]+/g,'-'));
    add(ax.plot,'rect',{x:ax.X(i)-w/2,y:y,width:w,height:ax.Y(0)-y,fill:'url(#barShade)'},'bar-shade');
    const lx=ax.X(i)+7, ly=794;
    label(p,0,0,gCategories[i],9.5,'x-tick-label-'+i,{'text-anchor':'end',transform:'translate('+lx+' '+ly+') rotate(-42)'});
  });
  ax.frame();
  vtitle(p,735,683,'Time (hour)',17.5,'y-axis-title-g');
  ctitle(p,895,828,'Ref. number',17.5,'x-axis-title-g');
  label(p,700,588,'(g)',LETTER,'panel-label-g');
})();

// ---------- panel h ----------
(function(){
  const p=add(root,'g',{},'panel-h');
  const ax=axes(p,{name:'h',x0:95,x1:529.6,y0:854,y1:1063.7,xMin:0,xMax:1125,yMin:-.8,yMax:.4,xTicks:hXTicks,yTicks:hYTicks,xLabelY:1079,yDigits:1});
  band(ax,hTime,hUpper,hLower,TEAL,'znso4-sh-voltage-band');
  label(p,128,878,'-10 °C',11.5,'temperature-label-h');
  label(p,206.6,877,'2mA cm^-2, 1mAh cm^-2',11.5,'test-condition-h');
  key(p,392.5,428.7,874,TEAL,2.4,'legend-line-h');
  label(p,432,880,'2M ZnSO_4+SH',12.2,'legend-label-h');
  ax.frame();
  const i1=add(p,'g',{},'inset-h');
  insetFrame(i1,{name:'h1',x0:165.6,x1:469,y0:956,y1:1041,xMin:1115,xMax:1123,yMin:-.2,yMax:.2,xTicks:h1XTicks,yTicks:h1YTicks,xLabelY:1049,fontSize:6.5,yDigits:1,major:3,minor:2,tickWidth:.8,frameWidth:1,labelGap:3},
    [[h1Time,h1Voltage,'#3a8f88',1.3,'inset-h-voltage-line']]);
  vtitle(i1,146,991.7,'Voltage (V)',8.8,'inset-h-y-title');
  ctitle(i1,317,1055.5,'Time (hour)',8.8,'inset-h-x-title');
  label(i1,188.7,967.7,'-10 °C',6,'inset-h-temperature');
  label(i1,243.5,967.7,'2mA cm^-2, 1mAh cm^-2',6,'inset-h-condition');
  key(i1,373,392.6,966,'#3a8f88',1.2,'inset-h-legend-line');
  label(i1,393.6,968.5,'2M ZnSO_4+SH',7,'inset-h-legend-label');
  vtitle(p,57,950,'Voltage (V)',TITLE,'y-axis-title-h');
  ctitle(p,312,1100,'Time (hour)',TITLE,'x-axis-title-h');
  label(p,12,864,'(h)',LETTER,'panel-label-h');
})();

// ---------- panel i ----------
(function(){
  const p=add(root,'g',{},'panel-i');
  const M='#a0044f';
  const ax=axes(p,{name:'i',x0:592.4,x1:1027.4,y0:852.3,y1:1062.3,xMin:0,xMax:684,yMin:-.8,yMax:.4,xTicks:iXTicks,yTicks:iYTicks,xLabelY:1078,yDigits:1});
  band(ax,iTime,iUpper,iLower,M,'znso4-sh-voltage-band');
  label(p,625.4,877,'-10 °C',11.5,'temperature-label-i');
  label(p,704,876.7,'5mA cm^-2, 1mAh cm^-2',11.5,'test-condition-i');
  key(p,889.5,927,873,M,2.8,'legend-line-i');
  label(p,929,879,'2M ZnSO_4+SH',12.2,'legend-label-i');
  ax.frame();
  const i1=add(p,'g',{},'inset-i');
  insetFrame(i1,{name:'i1',x0:657.3,x1:967.4,y0:953.3,y1:1040.3,xMin:675,xMax:680,yMin:-.248,yMax:.301,xTicks:i1XTicks,yTicks:i1YTicks,xLabelY:1048.3,fontSize:7,yDigits:1,major:3,minor:2,tickWidth:.8,frameWidth:1,labelGap:3},
    [[i1Time,i1Voltage,'#8f1f58',1.5,'inset-i-voltage-line']]);
  vtitle(i1,636,990,'Voltage (V)',8.8,'inset-i-y-title');
  ctitle(i1,812,1057,'Time (hour)',8.8,'inset-i-x-title');
  label(i1,680,965,'-10 °C',6,'inset-i-temperature');
  label(i1,737,965,'5mA cm^-2, 1mAh cm^-2',6,'inset-i-condition');
  key(i1,869.5,889.5,963.7,'#8f1f58',1.3,'inset-i-legend-line');
  label(i1,890.6,966.2,'2M ZnSO_4+SH',7.2,'inset-i-legend-label');
  vtitle(p,556,948,'Voltage (V)',TITLE,'y-axis-title-i');
  ctitle(p,810,1098,'Time (hour)',TITLE,'x-axis-title-i');
  label(p,535,864,'(i)',LETTER,'panel-label-i');
})();

// ---------- watermark ----------
(function(){
  const w=add(root,'g',{},'watermark');
  add(w,'path',{d:'M18 1083C9 1087 9 1099 17 1103C24 1106 31 1104 35 1098',fill:'none',stroke:'#cfcfcf','stroke-width':3},'watermark-logo-arc');
  add(w,'path',{d:'M14 1086V1100',fill:'none',stroke:'#cfcfcf','stroke-width':2.5},'watermark-logo-stem');
  add(w,'circle',{cx:30,cy:1088,r:4.5,fill:'none',stroke:'#cfcfcf','stroke-width':2.2},'watermark-logo-circle');
  add(w,'circle',{cx:41,cy:1085,r:3.5,fill:'none',stroke:'#cfcfcf','stroke-width':2.2},'watermark-logo-dot');
  const t=label(w,52,1101,'大数跨境',22,'watermark-text',{style:'fill:#d2d2d2;stroke:#c4c4c4;stroke-width:.7;font-family:"Liberation Sans","Noto Sans CJK SC",sans-serif'});
  t.setAttribute('opacity','.95');
})();
</script>
</body>
</html>
